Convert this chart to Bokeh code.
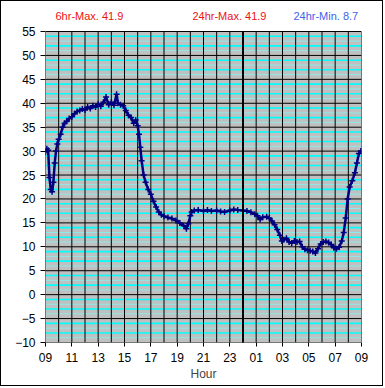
from bokeh.plotting import figure
from bokeh.models import FixedTicker, Arrow, Range1d
from bokeh.core.properties import value
from bokeh.embed import file_html
from bokeh.resources import INLINE

# ---- data (hours after 09:00, temperature) ----
hours = [0.0, 0.1, 0.2, 0.3, 0.4, 0.5, 0.6, 0.7, 0.8, 0.9, 1.0, 1.15, 1.3, 1.45, 1.6,
         1.8, 2.0, 2.2, 2.4, 2.6, 2.8, 3.0, 3.2, 3.4, 3.6, 3.8, 4.0, 4.2, 4.4, 4.6,
         4.8, 5.0, 5.2, 5.4, 5.5, 5.7, 5.9, 6.1, 6.3, 6.5, 6.7, 6.85, 7.0, 7.1, 7.2,
         7.3, 7.45, 7.6, 7.8, 8.0, 8.2, 8.4, 8.6, 8.8, 9.0, 9.3, 9.6, 9.9, 10.2, 10.5,
         10.7, 10.85, 11.0, 11.1, 11.3, 11.6, 12.0, 12.3, 12.6, 13.0, 13.3, 13.6, 14.0,
         14.3, 14.6, 15.0, 15.3, 15.6, 15.9, 16.1, 16.3, 16.5, 16.8, 17.0, 17.2, 17.4,
         17.6, 17.8, 17.95, 18.1, 18.3, 18.5, 18.7, 18.9, 19.1, 19.3, 19.5, 19.7, 19.9,
         20.1, 20.3, 20.5, 20.7, 20.9, 21.1, 21.3, 21.5, 21.7, 21.9, 22.1, 22.3, 22.5,
         22.65, 22.8, 22.95, 23.1, 23.3, 23.5, 23.65, 23.8, 23.95]
temps = [29.8, 30.5, 30.2, 24.5, 22.0, 21.5, 23.5, 27.5, 30.0, 31.5, 32.5, 33.5, 35.0, 35.8, 36.2,
         36.8, 37.2, 37.8, 38.3, 38.5, 38.8, 38.6, 39.2, 38.9, 39.5, 39.2, 39.8, 39.4, 40.2, 41.3,
         39.7, 40.2, 39.6, 41.9, 40.0, 39.7, 39.5, 38.5, 37.5, 37.0, 35.8, 36.5, 35.3, 33.5, 30.8,
         28.0, 25.0, 23.5, 22.0, 21.0, 19.5, 18.3, 17.3, 16.7, 16.4, 16.1, 15.9, 15.5, 15.0, 14.4,
         13.8, 14.8, 16.5, 17.3, 17.6, 17.7, 17.5, 17.7, 17.5, 17.6, 17.4, 17.3, 17.6,
         17.8, 17.7, 17.6, 17.5, 17.2, 16.8, 16.5, 15.7, 16.2, 16.3, 16.0, 15.4, 14.6,
         13.6, 12.4, 11.2, 11.5, 11.8, 11.0, 10.8, 11.2, 11.0, 11.1, 10.0, 9.5, 9.3,
         9.2, 9.0, 8.7, 9.6, 10.6, 11.0, 11.1, 10.9, 10.5, 9.8, 9.6, 9.9, 11.2,
         13.0, 16.0, 20.0, 22.5, 23.8, 25.5, 27.5, 29.5, 30.0]

x_min, x_max = 0, 24
y_min, y_max = -10, 55
x_ticks = list(range(0, 25, 2))
x_tick_labels = ["09", "11", "13", "15", "17", "19", "21", "23", "01", "03", "05", "07", "09"]
hour_lines = list(range(0, 25))
y_ticks = list(range(-10, 56, 5))
midnight = 15

header_texts = ["6hr-Max. 41.9", "24hr-Max. 41.9", "24hr-Min. 8.7"]
header_x = [0.76, 11.16, 18.83]
header_colors = ["#EE1111", "#EE1111", "#3F62E8"]

# layout (pixels)
W, H = 383, 386
left, right, bottom = 44, 23, 45
gap_above = 30          # pixels between the 55 line and top of frame
frame_h = H - bottom
y_top = y_min + (y_max - y_min) * frame_h / (frame_h - gap_above)
header_y = y_max + (y_max - y_min) * 16 / (frame_h - gap_above)

p = figure(width=W, height=H, output_backend="svg", toolbar_location=None,
           x_range=Range1d(x_min, x_max), y_range=Range1d(y_min, y_top),
           min_border_left=left, min_border_right=right, min_border_top=0, min_border_bottom=bottom,
           background_fill_color="white", border_fill_color="white",
           outline_line_color=None)
p.styles = {"border": "1px solid black"}
p.xgrid.visible = False
p.ygrid.visible = False

# plot area background
p.quad(left=[x_min], right=[x_max], bottom=[y_min], top=[y_max],
       fill_color="#C0C0C0", line_color=None)

# minor (cyan) lines
pale = [v for v in range(y_min, y_max + 1) if v % 5 in (1, 3)]
bright = [v for v in range(y_min, y_max + 1) if v % 5 in (2, 4)]
p.segment(x0=[x_min] * len(pale), x1=[x_max] * len(pale), y0=pale, y1=pale,
          line_color="#8EEAEA", line_width=1)
p.segment(x0=[x_min] * len(bright), x1=[x_max] * len(bright), y0=bright, y1=bright,
          line_color="#00FFFF", line_width=1.6)
# black grid
p.segment(x0=hour_lines, x1=hour_lines, y0=[y_min] * len(hour_lines), y1=[y_max] * len(hour_lines),
          line_color="black", line_width=1)
p.segment(x0=[x_min] * len(y_ticks), x1=[x_max] * len(y_ticks), y0=y_ticks, y1=y_ticks,
          line_color="black", line_width=1)

# axes
p.xaxis.ticker = FixedTicker(ticks=x_ticks)
p.xaxis.major_label_overrides = {t: l for t, l in zip(x_ticks, x_tick_labels)}
p.yaxis.ticker = FixedTicker(ticks=y_ticks)
for ax in (p.xaxis[0], p.yaxis[0]):
    ax.axis_line_color = None
    ax.major_tick_line_color = "black"
    ax.major_tick_in = 0
    ax.minor_tick_in = 0
    ax.minor_tick_out = 0
    ax.major_label_text_font = "Liberation Sans"
    ax.major_label_text_font_size = "12px"
    ax.major_label_text_color = "black"
p.xaxis.major_tick_out = 4
p.xaxis.major_label_standoff = 6
p.yaxis.major_tick_out = 5
p.yaxis.major_label_standoff = 5
p.xaxis.axis_label = "Hour"
p.xaxis.axis_label_text_font = "Liberation Sans"
p.xaxis.axis_label_text_font_size = "12px"
p.xaxis.axis_label_text_font_style = "normal"
p.xaxis.axis_label_standoff = 2

# midnight line
p.add_layout(Arrow(end=None, x_start=midnight, y_start=y_max, x_end=midnight, y_end=-12.3,
                   line_color="black", line_width=2))

# data
p.line(hours, temps, line_color="#000080", line_width=2.5)
p.scatter(hours, temps, marker="cross", size=6, line_color="#000080", line_width=1.5)

# header texts
p.text(x=header_x, y=[header_y] * 3, text=header_texts, text_color=header_colors,
       text_font=value("Liberation Sans"), text_font_size="11px", text_baseline="middle")

open("out.html", "w").write(file_html(p, INLINE))
